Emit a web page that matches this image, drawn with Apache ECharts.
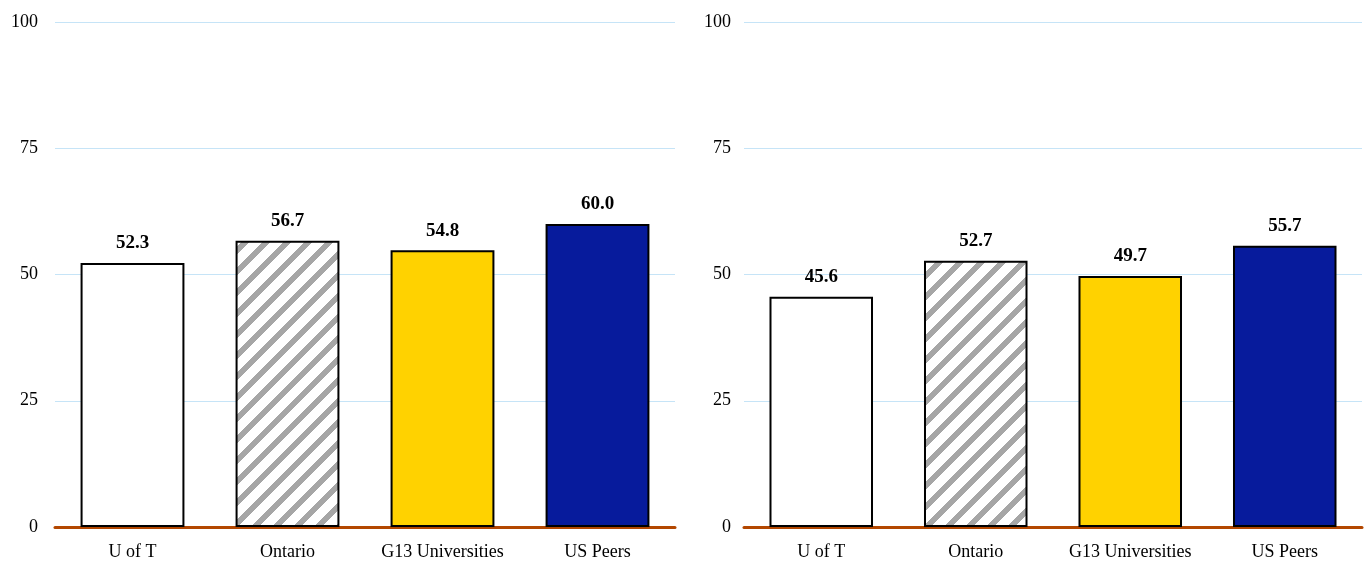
<!DOCTYPE html>
<html><head><meta charset="utf-8">
<script src="https://cdn.jsdelivr.net/npm/echarts@6/dist/echarts.min.js"></script>
<style>html,body{margin:0;padding:0;background:#fff}#c{width:1366px;height:561px}</style>
</head><body><div id="c"></div>
<script>
const categories = ['U of T', 'Ontario', 'G13 Universities', 'US Peers'];
const leftValues = [52.3, 56.7, 54.8, 60.0];
const rightValues = [45.6, 52.7, 49.7, 55.7];
const yTicks = [0, 25, 50, 75, 100];

// hatch pattern (diagonal stripes, bottom-left to top-right)
const T = 21, W = 8;
const tile = document.createElement('canvas');
tile.width = T; tile.height = T;
const g = tile.getContext('2d');
const img = g.createImageData(T, T);
for (let y = 0; y < T; y++) {
  for (let x = 0; x < T; x++) {
    const k = (x + y) % T;
    const gray = k < W;
    const v = gray ? 166 : 255;
    const i = (y * T + x) * 4;
    img.data[i] = v; img.data[i + 1] = v; img.data[i + 2] = v; img.data[i + 3] = 255;
  }
}
g.putImageData(img, 0, 0);
const hatch = { image: tile, repeat: 'repeat' };
const fills = ['#ffffff', hatch, '#ffd200', '#071b9c'];

const font = '"Liberation Serif", "Times New Roman", serif';

function mkData(vals) {
  return vals.map((v, i) => ({ value: v, itemStyle: { color: fills[i] } }));
}
function yAxis(idx, margin) {
  return {
    type: 'value', gridIndex: idx, min: yTicks[0], max: yTicks[yTicks.length - 1], interval: 25,
    axisLine: { show: false }, axisTick: { show: false },
    axisLabel: { color: '#000', fontFamily: font, fontSize: 18, margin: margin },
    splitLine: { lineStyle: { color: '#c6e4f7', width: 1 } }
  };
}
function xAxis(idx) {
  return {
    type: 'category', gridIndex: idx, data: categories,
    axisLine: { lineStyle: { color: '#b34700', width: 3 } }, axisTick: { show: false },
    axisLabel: { color: '#000', fontFamily: font, fontSize: 18, margin: 16, interval: 0, hideOverlap: false }
  };
}
function series(idx, vals) {
  return {
    type: 'bar', xAxisIndex: idx, yAxisIndex: idx, data: mkData(vals), barWidth: '67%',
    itemStyle: { borderColor: '#000', borderWidth: 2 },
    label: { show: true, position: 'top', distance: 10, color: '#000', fontFamily: font,
      fontSize: 19, fontWeight: 'bold', formatter: p => p.value.toFixed(1) },
    z: 3
  };
}
const chart = echarts.init(document.getElementById('c'));
chart.setOption({
  animation: false,
  grid: [
    { left: 55, right: 691, top: 22, bottom: 34 },
    { left: 744, right: 4, top: 22, bottom: 34 }
  ],
  xAxis: [xAxis(0), xAxis(1)],
  yAxis: [yAxis(0, 17), yAxis(1, 13)],
  series: [series(0, leftValues), series(1, rightValues)]
});
</script></body></html>
